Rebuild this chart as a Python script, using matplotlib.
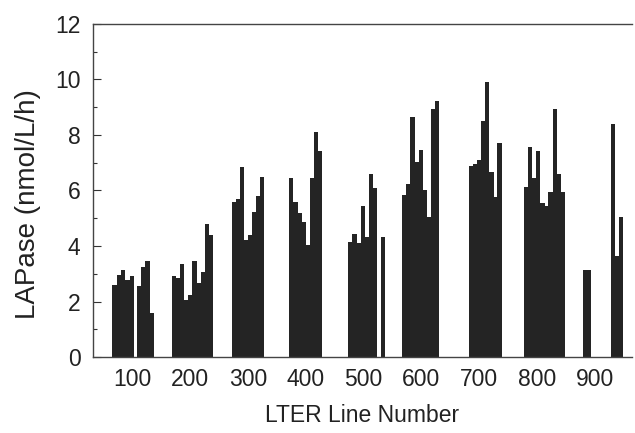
import matplotlib
matplotlib.use("Agg")
import matplotlib.pyplot as plt
from matplotlib.ticker import MultipleLocator

plt.rcParams['font.family'] = ['Liberation Sans', 'DejaVu Sans']

# Bar centre positions (LTER line / station position) and LAPase values
x100 = [68.9, 76.3, 83.7, 91.2, 98.6, 111.1, 118.5, 126.0, 133.4]
v100 = [2.6, 2.95, 3.15, 2.77, 2.93, 2.55, 3.25, 3.45, 1.6]

x200 = [171.4, 178.6, 185.8, 193.0, 200.2, 207.4, 214.6, 221.8, 229.0, 236.2]
v200 = [2.92, 2.85, 3.35, 2.07, 2.25, 3.47, 2.68, 3.07, 4.79, 4.4]

x300 = [275.2, 282.2, 289.3, 296.3, 303.4, 310.4, 317.5, 324.5]
v300 = [5.6, 5.71, 6.86, 4.22, 4.4, 5.24, 5.8, 6.5]

x400 = [374.8, 382.0, 389.1, 396.2, 403.5, 410.6, 417.6, 424.7]
v400 = [6.44, 5.6, 5.18, 4.88, 4.04, 6.44, 8.1, 7.43]

x500 = [477.0, 484.1, 491.2, 498.4, 505.5, 512.6, 519.9, 533.4]
v500 = [4.16, 4.43, 4.12, 5.44, 4.31, 6.6, 6.08, 4.31]

x600 = [570.3, 577.5, 584.6, 591.7, 598.8, 605.9, 613.0, 620.1, 627.2]
v600 = [5.84, 6.24, 8.66, 7.04, 7.46, 6.0, 5.06, 8.95, 9.22]

x700 = [685.7, 692.7, 699.8, 706.9, 714.0, 721.1, 728.2, 735.1]
v700 = [6.9, 6.97, 7.1, 8.52, 9.92, 6.67, 5.78, 7.71]

x800 = [780.9, 788.0, 795.1, 802.2, 809.3, 816.4, 823.4, 830.5, 837.6, 844.7]
v800 = [6.11, 7.55, 6.44, 7.43, 5.56, 5.44, 5.96, 8.92, 6.6, 5.96]

x900 = [882.5, 889.6, 931.0, 938.2, 945.5]
v900 = [3.13, 3.14, 8.4, 3.64, 5.03]

xs = x100 + x200 + x300 + x400 + x500 + x600 + x700 + x800 + x900
vs = v100 + v200 + v300 + v400 + v500 + v600 + v700 + v800 + v900

xticks = [100, 200, 300, 400, 500, 600, 700, 800, 900]

fig = plt.figure(figsize=(6.35, 4.33), dpi=100)
ax = fig.add_axes([0.1465, 0.1755, 0.8485, 0.7691])

ax.bar(xs, vs, width=7.3, color='#242424', linewidth=0)

ax.set_xlim(31.7, 964)
ax.set_ylim(0, 12)
ax.set_xticks(xticks)
ax.set_xticklabels([str(t) for t in xticks])
ax.yaxis.set_major_locator(MultipleLocator(2))
ax.yaxis.set_minor_locator(MultipleLocator(1))

ax.tick_params(axis='y', which='major', direction='in', length=6, width=0.8,
               labelsize=16.5, pad=9, colors='#333333', labelcolor='#222222')
ax.tick_params(axis='y', which='minor', direction='in', length=3, width=0.8,
               colors='#333333')
ax.tick_params(axis='x', which='major', length=0, labelsize=16.5, pad=8,
               labelcolor='#222222')

for s in ['left', 'top', 'bottom']:
    ax.spines[s].set_color('#444444')
    ax.spines[s].set_linewidth(1.0)
ax.spines['right'].set_visible(False)

ax.set_ylabel('LAPase (nmol/L/h)', fontsize=20, color='#222222')
ax.yaxis.set_label_coords(-0.0965, 0.46)
ax.set_xlabel('LTER Line Number', fontsize=16.5, color='#222222', labelpad=9)

fig.savefig('out.png', dpi=100)
